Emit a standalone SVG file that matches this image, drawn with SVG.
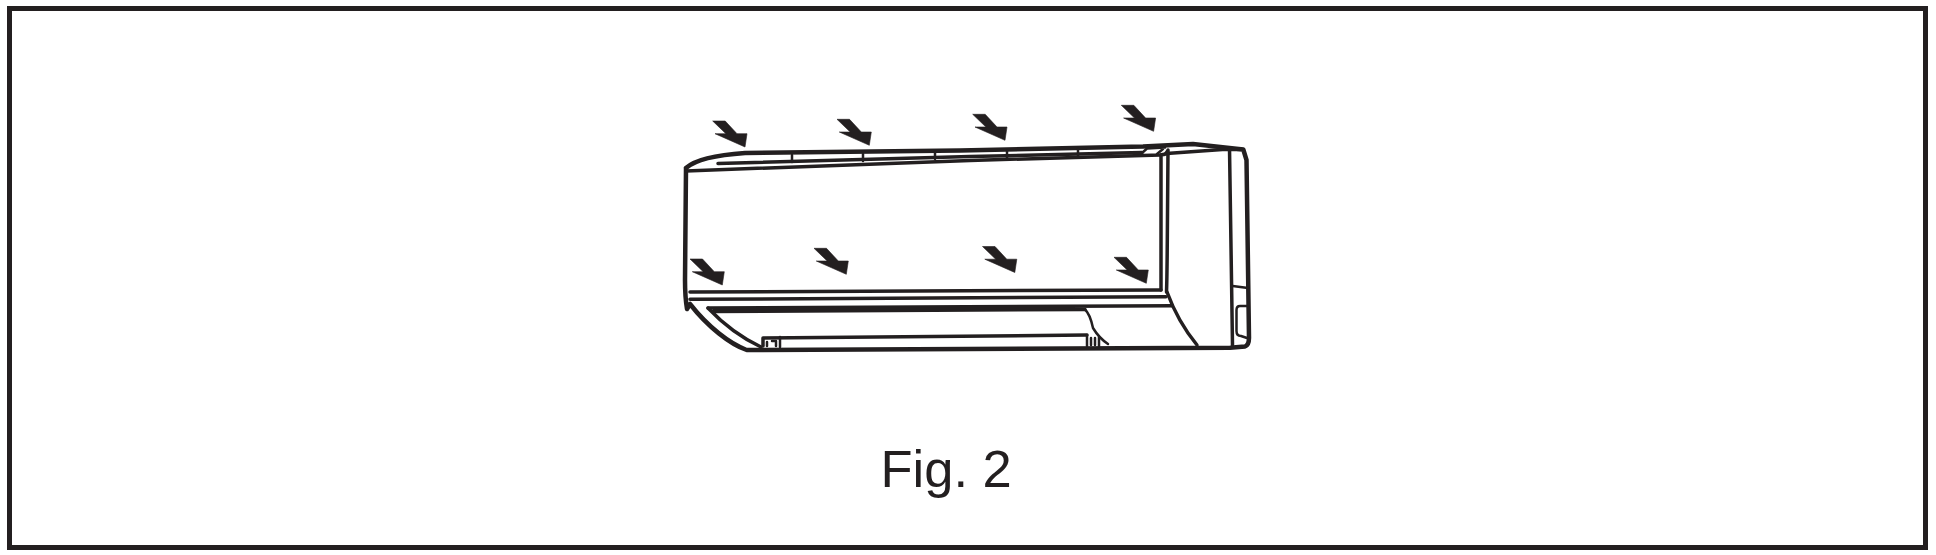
<svg xmlns="http://www.w3.org/2000/svg" width="1936" height="555" viewBox="0 0 1936 555">
<style>
.l{fill:none;stroke:#231f20;stroke-width:3.500;stroke-linejoin:round;stroke-linecap:round}
.o{stroke-width:4.500}
.t{stroke-width:2.500}
.a{fill:#231f20;stroke:#231f20;stroke-width:.6}
text{font-family:"Liberation Sans",Arial,sans-serif;font-size:52.500px;fill:#231f20}
</style>
<defs><polygon id="arrow" points="0,0 12.500,0 24.300,12.700 34.300,12.700 32.300,26 2.300,12.700 13.200,12.700"/></defs>
<rect id="frame" x="9.500" y="8.500" width="1916" height="539" fill="#fff" stroke="#231f20" stroke-width="5"/>
<g id="unit">
<path class="l o" d="M686,168C695,160 715,155 745,153L960,150.500L1143,146.500L1193,144L1243.300,149.500L1246.500,160L1249,338Q1249,345 1245,346.500L1230,347.800L746.700,350C730,344 708,327 690,304L687,309C685.500,300 685,292 685,280L686,168"/>
<path class="l" d="M686,171L970,160.500L1160,155L1170,153.300L1226,149.300L1243,149.500"/>
<path class="l" d="M718,163.500L970,156.500L1142,152.500"/>
<path class="l t" d="M1142,153L1147,148.500L1165,147.500M1157,154L1163,149M1167,151L1164,155"/>
<path class="l t" d="M792,155V162M863,154V161M935,152V159M1007,151V158M1078,149V156"/>
<path class="l" d="M1161,155V290M1168,150L1167.300,240Q1167,280 1166.500,292"/>
<path class="l" d="M1229.500,148L1232.500,345"/>
<path class="l t" d="M1232.700,286L1248,288"/>
<path class="l t" d="M1240,306H1247M1240,306Q1236.500,306 1236.500,310V331Q1236.500,336 1241,336L1247,338"/>
<path class="l" d="M690,292L1161,290M690,299.300L1166,296.700"/>
<path class="l" d="M708,308L1172,305.700M713,311.500L1085,309.500"/>
<path class="l" d="M708,308C725,326 742,338 761,347"/>
<path class="l" d="M763,346V338L1087,335"/>
<path class="l t" d="M1085,309.500Q1090,314 1093,328Q1099,338 1108,344"/>
<path class="l" d="M1167,292Q1178,322 1197,345"/>
<path class="l t" d="M780,337V347M1087,335V346M1099,337V346"/>
<path class="l t" d="M767,342V346M772,341H776V346M1091,338V345M1095,338V345"/>
</g>
<g id="arrows">
<use class="a" href="#arrow" x="712.700" y="121"/>
<use class="a" href="#arrow" x="837" y="119.300"/>
<use class="a" href="#arrow" x="972.700" y="114.300"/>
<use class="a" href="#arrow" x="1121.300" y="105.300"/>
<use class="a" href="#arrow" x="690" y="259"/>
<use class="a" href="#arrow" x="814" y="248.300"/>
<use class="a" href="#arrow" x="982.500" y="246.500"/>
<use class="a" href="#arrow" x="1114" y="257.300"/>
</g>
<text id="caption" x="880.500" y="487.300">Fig. 2</text>
</svg>
